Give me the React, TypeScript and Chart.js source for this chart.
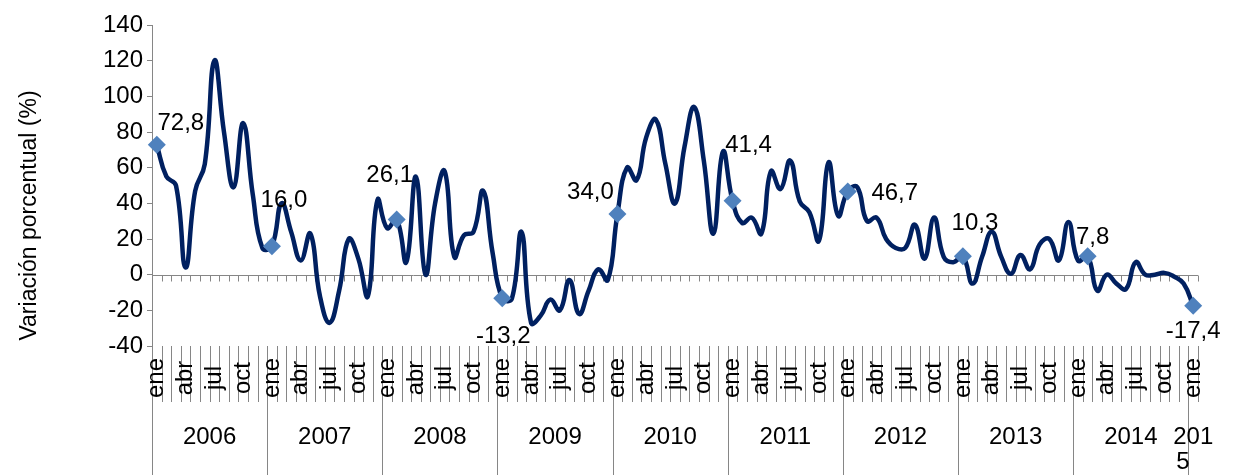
import React, { useEffect, useRef } from "react";
import { Chart, registerables } from "chart.js";

Chart.register(...registerables);

const years = ["2006", "2007", "2008", "2009", "2010", "2011", "2012", "2013", "2014", "2015"];
const monthNames = ["ene", "feb", "mar", "abr", "may", "jun", "jul", "ago", "sep", "oct", "nov", "dic"];
const shownMonths = ["ene", "abr", "jul", "oct"];

const v2006 = [72.8, 55, 50, 4, 47, 62, 120, 80, 49, 85, 45, 15];
const v2007 = [16.0, 40, 24, 8, 23, -12, -27, -9, 20, 9, -12, 42];
const v2008 = [26.1, 31, 7, 55, 0, 40, 58, 10, 22, 24, 47, 12];
const v2009 = [-13.2, -13.5, 24, -27, -23, -14, -20, -3, -22, -9, 3, -3];
const v2010 = [34.0, 60, 53, 77, 87, 62, 40, 72, 94, 64, 23, 69];
const v2011 = [41.4, 29, 32, 23, 58, 48, 64, 41, 35, 19, 63, 33];
const v2012 = [46.7, 49, 30, 32, 20, 15, 15, 28, 9, 32, 10, 7];
const v2013 = [10.3, -5, 10, 24, 10, 0.5, 11, 3, 17, 20, 8, 29.5];
const v2014 = [7.8, 10.3, -9, 0, -5, -8, 7, 0, 0, 1, -1, -5];
const v2015 = [-17.4];

const variation = [...v2006, ...v2007, ...v2008, ...v2009, ...v2010, ...v2011, ...v2012, ...v2013, ...v2014, ...v2015];

const markerIndex = [0, 12, 25, 36, 48, 60, 72, 84, 97, 108];
const markerLabels = ["72,8", "16,0", "26,1", "-13,2", "34,0", "41,4", "46,7", "10,3", "7,8", "-17,4"];

const yMin = -40;
const yMax = 140;
const yStep = 20;
const yTitle = "Variación porcentual (%)";

// label placement (style only)
const labelOffsets: [number, number][] = [
  [24, -21], [12, -46], [-7, -44], [1, 38], [-27, -22],
  [16, -55], [47, 2], [12, -33], [5, -19], [0, 26],
];

const FONT = "'Liberation Sans', Arial, sans-serif";
const AXIS_GRAY = "#868686";

const categories: string[] = variation.map((_, i) => {
  const y = years[Math.floor(i / 12)];
  return monthNames[i % 12] + " " + y;
});

const decorPlugin = {
  id: "decor",
  beforeDatasetsDraw(chart: any) {
    const { ctx } = chart;
    const x = chart.scales.x;
    const y = chart.scales.y;
    const n = categories.length;
    const half = (x.getPixelForValue(1) - x.getPixelForValue(0)) / 2;
    const bnd = (i: number) => (i < n ? x.getPixelForValue(i) - half : x.getPixelForValue(n - 1) + half);
    const y0 = Math.round(y.getPixelForValue(0)) + 0.5;
    ctx.save();
    ctx.strokeStyle = AXIS_GRAY;
    ctx.lineWidth = 1;
    ctx.beginPath();
    ctx.moveTo(x.left, y0);
    ctx.lineTo(x.right, y0);
    for (let i = 0; i <= n; i++) {
      const px = Math.round(bnd(i)) + 0.5;
      ctx.moveTo(px, y0);
      ctx.lineTo(px, y0 + 6);
    }
    ctx.stroke();
    ctx.restore();
  },
  afterDraw(chart: any) {
    const { ctx } = chart;
    const x = chart.scales.x;
    const y = chart.scales.y;
    const n = categories.length;
    const half = (x.getPixelForValue(1) - x.getPixelForValue(0)) / 2;
    const bnd = (i: number) => (i < n ? x.getPixelForValue(i) - half : x.getPixelForValue(n - 1) + half);
    const top = y.bottom;
    const monthBottom = top + 56;
    const bottom = chart.height;

    ctx.save();
    ctx.strokeStyle = AXIS_GRAY;
    ctx.lineWidth = 1;
    ctx.beginPath();
    for (let i = 0; i <= n; i++) {
      const px = Math.round(bnd(i)) + 0.5;
      ctx.moveTo(px, top);
      ctx.lineTo(px, i % 12 === 0 ? bottom : monthBottom);
    }
    ctx.stroke();

    // month labels
    ctx.fillStyle = "#000";
    ctx.font = `24px ${FONT}`;
    ctx.textAlign = "center";
    ctx.textBaseline = "middle";
    for (let i = 0; i < n; i++) {
      const m = monthNames[i % 12];
      if (!shownMonths.includes(m)) continue;
      ctx.save();
      ctx.translate(x.getPixelForValue(i), top + 32);
      ctx.rotate(-Math.PI / 2);
      ctx.fillText(m, 0, 0);
      ctx.restore();
    }

    // year labels
    for (let k = 0; k < years.length; k++) {
      const a = bnd(k * 12);
      const b = bnd(Math.min(k * 12 + 12, n));
      const cx = (a + b) / 2;
      const t = years[k];
      if (ctx.measureText(t).width > (b - a) * 1.5) {
        ctx.fillText(t.slice(0, t.length - 1), cx, top + 91);
        ctx.textAlign = "left";
        ctx.fillText(t.slice(t.length - 1), cx - 17, top + 116);
        ctx.textAlign = "center";
      } else {
        ctx.fillText(t, cx, top + 91);
      }
    }

    // data labels
    markerIndex.forEach((idx, k) => {
      const px = x.getPixelForValue(idx);
      const py = y.getPixelForValue(variation[idx]);
      const [dx, dy] = labelOffsets[k];
      ctx.fillText(markerLabels[k], px + dx, py + dy);
    });

    // y title
    ctx.font = `23px ${FONT}`;
    ctx.save();
    ctx.translate(30, (y.top + y.bottom) / 2 + 30);
    ctx.rotate(-Math.PI / 2);
    ctx.fillText(yTitle, 0, 0);
    ctx.restore();
    ctx.restore();
  },
};

export default function App() {
  const ref = useRef<HTMLCanvasElement>(null);
  useEffect(() => {
    if (!ref.current) return;
    const markerData = variation.map((v, i) => (markerIndex.includes(i) ? v : null));
    const chart = new Chart(ref.current, {
      type: "line",
      data: {
        labels: categories,
        datasets: [
          {
            data: markerData,
            showLine: false,
            pointStyle: "rectRot",
            pointRadius: 9,
            pointHoverRadius: 9,
            pointBackgroundColor: "#4F81BD",
            pointBorderColor: "#4F81BD",
            pointBorderWidth: 0,
            order: 0,
          },
          {
            data: variation,
            borderColor: "#002060",
            borderWidth: 4.5,
            tension: 0.45,
            pointRadius: 0,
            fill: false,
            order: 1,
          },
        ],
      },
      options: {
        responsive: false,
        animation: false,
        devicePixelRatio: 1,
        layout: { padding: { left: 0, top: 25, right: 36, bottom: 129 } },
        plugins: { legend: { display: false }, tooltip: { enabled: false } },
        scales: {
          x: {
            type: "category",
            display: false,
            offset: true,
          },
          y: {
            min: yMin,
            max: yMax,
            afterFit: (s: any) => {
              s.width = 152;
            },
            ticks: {
              stepSize: yStep,
              color: "#000",
              font: { family: FONT, size: 24 },
              padding: 4,
            },
            grid: {
              drawOnChartArea: false,
              drawTicks: true,
              tickLength: 5,
              color: AXIS_GRAY,
            },
            border: { display: true, color: AXIS_GRAY, width: 1 },
          },
        },
      },
      plugins: [decorPlugin],
    });
    return () => chart.destroy();
  }, []);
  return (
    <div style={{ position: "absolute", left: 0, top: 0, width: 1234, height: 475, background: "#fff" }}>
      <canvas ref={ref} width={1234} height={475} style={{ width: 1234, height: 475 }} />
    </div>
  );
}
